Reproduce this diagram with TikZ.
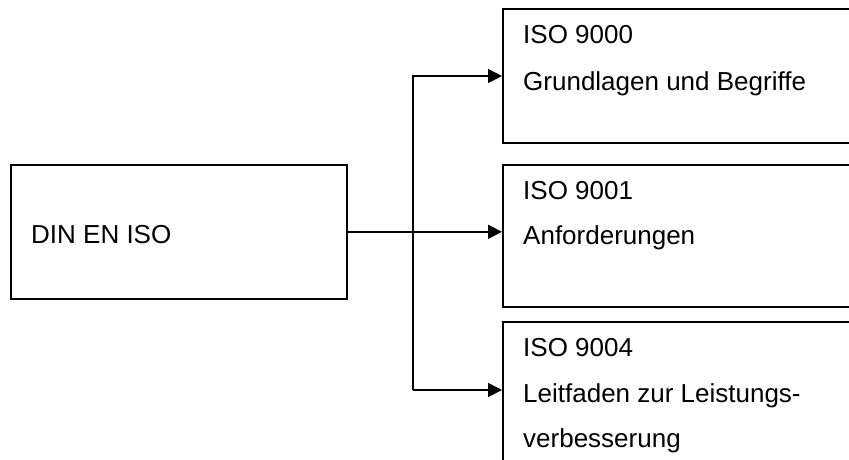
\documentclass[tikz,border=0pt]{standalone}
\usepackage{fontspec}
\setmainfont{Liberation Sans}
\usetikzlibrary{arrows.meta}
\begin{document}
\begin{tikzpicture}[x=1pt,y=-1pt,
  box/.style={draw, line width=1.6pt, rectangle, inner sep=0pt, anchor=north west},
  txt/.style={anchor=base west, inner sep=0pt, font=\fontsize{26}{30}\selectfont},
  conn/.style={line width=1.6pt},
  arr/.style={conn, -{Triangle[length=14pt,width=14pt]}}]
  \useasboundingbox (0,0) rectangle (849,459);
  \clip (0,0) rectangle (849,459);

  % boxes
  \node[box, minimum width=336pt, minimum height=134pt] (din) at (10,164) {};
  \node[box, minimum width=370pt, minimum height=134pt] (a) at (502,8) {};
  \node[box, minimum width=370pt, minimum height=142pt] (b) at (502,164) {};
  \node[box, minimum width=370pt, minimum height=170pt] (c) at (502,321) {};

  % texts
  \node[txt] (dint) at (31,243) {DIN EN ISO};
  \node[txt] (a1) at (523,43) {ISO 9000};
  \node[txt] (a2) at (523,90) {Grundlagen und Begriffe};
  \node[txt] (b1) at (523,199) {ISO 9001};
  \node[txt] (b2) at (523,244) {Anforderungen};
  \node[txt] (c1) at (523,356) {ISO 9004};
  \node[txt] (c2) at (523,402) {Leitfaden zur Leistungs-};
  \node[txt] (c3) at (523,447) {verbesserung};

  % connectors
  \coordinate (top) at (413,76);
  \coordinate (bot) at (413,390);
  \draw[arr] (din.east) -- (b.west |- din.east);
  \draw[arr] (bot) -- (top) -- (a.west |- top);
  \draw[arr] (bot) -- (c.west |- bot);
\end{tikzpicture}
\end{document}
